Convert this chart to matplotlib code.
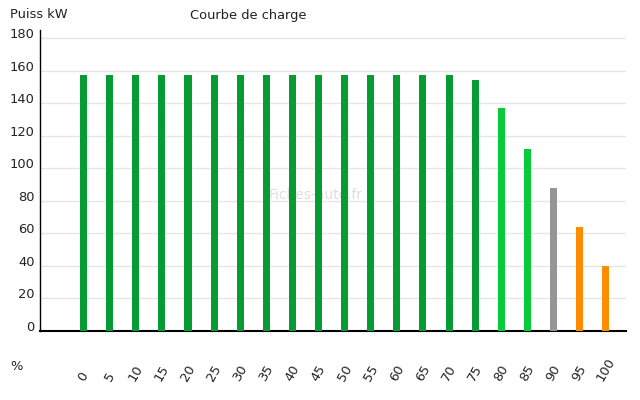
import matplotlib
matplotlib.use("Agg")
import matplotlib.pyplot as plt
import matplotlib.transforms as mtransforms

# Data
soc_labels = ["0", "5", "10", "15", "20", "25", "30", "35", "40", "45", "50",
              "55", "60", "65", "70", "75", "80", "85", "90", "95", "100"]
power_kw = [157, 157, 157, 157, 157, 157, 157, 157, 157, 157, 157,
            157, 157, 157, 157, 154, 137, 112, 88, 64, 40]
bar_colors = ["#079c33"] * 16 + ["#06cc3a", "#06cc3a", "#959595", "#ff8c00", "#ff8c00"]
y_ticks = [0, 20, 40, 60, 80, 100, 120, 140, 160, 180]

plt.rcParams['font.family'] = ['DejaVu Sans']
FS = 9.4
fig = plt.figure(figsize=(6.4, 4.0), dpi=100)
W, H = 640, 400
left, right, bottom, top = 40, 626, 331, 30
ax = fig.add_axes([left / W, 1 - bottom / H, (right - left) / W, (bottom - top) / H])

x = list(range(len(soc_labels)))
ax.bar(x, power_kw, width=0.27, color=bar_colors, linewidth=0, zorder=3)

ax.set_xlim(-1.67, 20.78)
ax.set_ylim(0, 180 * 301 / 293)

ax.set_yticks(y_ticks)
ax.set_yticklabels([str(v) for v in y_ticks])
ax.yaxis.grid(True, color="#e6e6e6", linewidth=1, zorder=0)
ax.set_axisbelow(True)
ax.tick_params(axis='y', length=0, pad=4, labelsize=FS, labelcolor="#222222")
for lbl in ax.get_yticklabels():
    lbl.set_va('baseline')

ax.set_xticks(x)
ax.set_xticklabels([])
ax.tick_params(axis='x', length=0)

trans = mtransforms.blended_transform_factory(ax.transData, ax.transAxes)
for xi, lab in zip(x, soc_labels):
    ax.text(xi, (bottom - 383) / (bottom - top), lab, transform=trans, rotation=60,
            ha='center', va='bottom', fontsize=FS, color="#222222", clip_on=False)

for s in ['top', 'right']:
    ax.spines[s].set_visible(False)
ax.spines['left'].set_color('black')
ax.spines['left'].set_linewidth(1)
ax.spines['bottom'].set_color('black')
ax.spines['bottom'].set_linewidth(1.5)

fig.text(10 / W, 1 - 15 / H, "Puiss kW", fontsize=FS, color="#222222", ha='left', va='center')
fig.text(190 / W, 1 - 15 / H, "Courbe de charge", fontsize=FS, color="#222222", ha='left', va='center')
fig.text(10 / W, 1 - 366 / H, "%", fontsize=FS, color="#222222", ha='left', va='center')
ax.text((316 - left) / (right - left), (bottom - 195) / (bottom - top), "Fiches-auto.fr",
        transform=ax.transAxes, fontsize=10, color="#dedede", ha='center', va='center', zorder=2)

fig.savefig("out.png", dpi=100)
